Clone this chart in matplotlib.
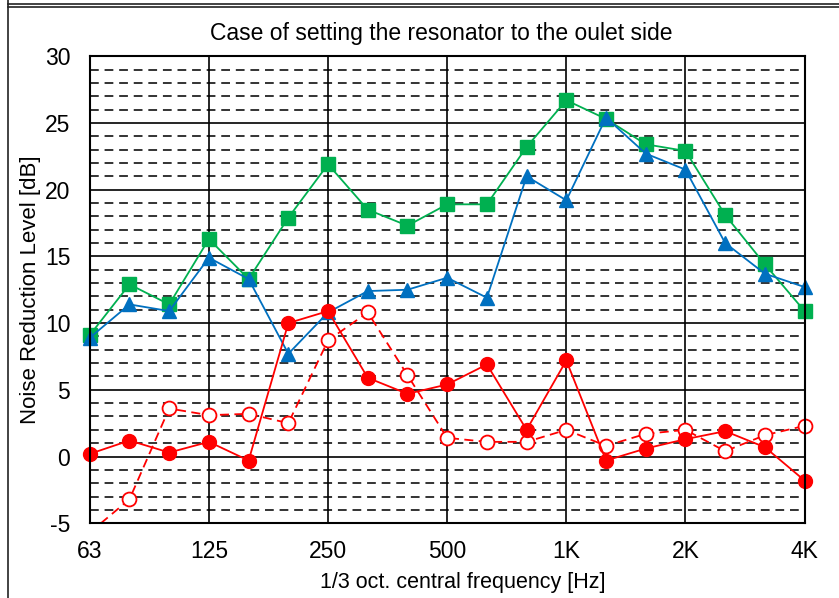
import matplotlib.pyplot as plt
import matplotlib.lines as mlines
import numpy as np

plt.rcParams['font.family'] = ['Liberation Sans', 'DejaVu Sans']
plt.rcParams['axes.unicode_minus'] = False

bands = ["63", "80", "100", "125", "160", "200", "250", "315", "400", "500",
         "630", "800", "1K", "1.25K", "1.6K", "2K", "2.5K", "3.15K", "4K"]
tick_labels = ["63", "125", "250", "500", "1K", "2K", "4K"]

green_sq = [9.1, 12.9, 11.4, 16.3, 13.3, 17.9, 21.9, 18.5, 17.3, 18.9,
            18.9, 23.2, 26.7, 25.3, 23.4, 22.9, 18.1, 14.4, 10.9]
blue_tri = [8.9, 11.4, 10.9, 14.9, 13.3, 7.7, 10.8, 12.4, 12.5, 13.4,
            11.9, 21.0, 19.2, 25.4, 22.7, 21.5, 16.0, 13.7, 12.7]
red_fill = [0.2, 1.2, 0.3, 1.1, -0.3, 10.0, 10.9, 5.9, 4.7, 5.4,
            6.9, 2.0, 7.2, -0.3, 0.6, 1.3, 1.9, 0.7, -1.8]
red_open = [-5.7, -3.2, 3.6, 3.1, 3.2, 2.5, 8.7, 10.8, 6.1, 1.4,
            1.1, 1.1, 2.0, 0.8, 1.7, 2.0, 0.4, 1.6, 2.3]

x = np.arange(len(bands))

fig = plt.figure(figsize=(8.39, 5.98), dpi=100)
ax = fig.add_axes([0.107, 0.125, 0.852, 0.781])

# grid: dashed every 1 dB, solid every 5 dB, solid verticals at octave labels
for v in range(-4, 30):
    if v % 5 != 0:
        ax.axhline(v, color='#333333', lw=1.4, ls=(0, (4.5, 3)), zorder=1)
for v in range(-5, 31, 5):
    ax.axhline(v, color='black', lw=1.2, zorder=1)
for i in range(0, len(bands), 3):
    ax.axvline(i, color='black', lw=1.2, zorder=1)

ax.plot(x, green_sq, color='#00B050', lw=1.3, marker='s', ms=10, zorder=3, clip_on=False)
ax.plot(x, blue_tri, color='#0070C0', lw=1.3, marker='^', ms=10, zorder=3, clip_on=False)
# open circles: line clipped at the bottom, first point falls below the axis
ax.plot(x, red_open, color='#FF0000', lw=1.3, ls=(0, (5, 3)), zorder=4)
ax.plot(x[1:], red_open[1:], ls='none', marker='o', ms=10,
        mfc='white', mec='#FF0000', mew=1.3, zorder=4, clip_on=False)
ax.plot(x, red_fill, color='#FF0000', lw=1.3, marker='o', ms=10, zorder=5, clip_on=False)

ax.set_xlim(0, len(bands) - 1)
ax.set_ylim(-5, 30)
ax.set_yticks(range(-5, 31, 5))
ax.set_xticks(range(0, len(bands), 3))
ax.set_xticklabels(tick_labels)
ax.tick_params(axis='both', length=0, labelsize=16.5)
ax.tick_params(axis='y', pad=14)
ax.tick_params(axis='x', pad=12)
for s in ax.spines.values():
    s.set_color('black')
    s.set_linewidth(1.5)
    s.set_zorder(6)

ax.set_title("Case of setting the resonator to the oulet side", fontsize=16.5, pad=12, x=0.492)
ax.set_xlabel("1/3 oct. central frequency [Hz]", fontsize=15.5)
ax.xaxis.set_label_coords(0.522, -0.105)
ax.set_ylabel("Noise Reduction Level [dB]", fontsize=16, labelpad=3)

# outer chart frame
fw, fh = 839, 598
fig.add_artist(mlines.Line2D([8 / fw, 1], [1 - 4 / fh, 1 - 4 / fh], color='#222222', lw=1.2))
fig.add_artist(mlines.Line2D([8 / fw, 1], [1 - 7 / fh, 1 - 7 / fh], color='#222222', lw=1.2))
fig.add_artist(mlines.Line2D([8 / fw, 8 / fw], [0, 1], color='#222222', lw=1.2))

fig.savefig("out.png", dpi=100)
